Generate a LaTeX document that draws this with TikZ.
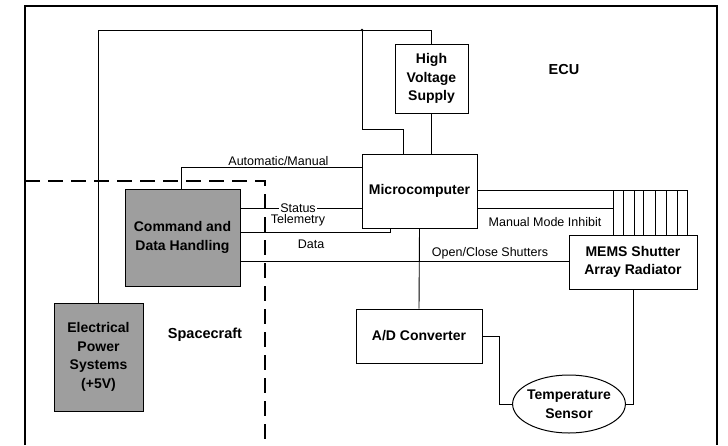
\documentclass[tikz,border=0pt]{standalone}
\usepackage{fontspec}
\setmainfont{Liberation Sans}
\usetikzlibrary{positioning,shapes.geometric}

\tikzset{
  blk/.style={draw,line width=1pt,align=center,inner sep=0pt,font=\bfseries\fontsize{14}{18.5}\selectfont},
  shaded/.style={blk,fill=black!38},
  sig/.style={inner sep=1pt,font=\fontsize{12.5}{14}\selectfont},
  wire/.style={line width=0.9pt},
}

\begin{document}
\begin{tikzpicture}[x=1pt,y=-1pt]
\useasboundingbox (0,0) rectangle (728,445);
% ECU frame and spacecraft boundary
\draw[line width=1.3pt] (25,445)--(25,6)--(717,6)--(717,445);
\draw[line width=2.2pt,dash pattern=on 15pt off 8pt] (25,181)--(265,181)--(265,445);
\node[font=\bfseries\fontsize{14.5}{16}\selectfont] (ecu) at (564,70) {ECU};
\node[font=\bfseries\fontsize{14.5}{16}\selectfont] (sc) at (205,335) {Spacecraft};

\node[blk,minimum width=73,minimum height=69] (hvs) at (431.5,78.5) {High\\Voltage\\Supply};
\node[blk,minimum width=115,minimum height=74] (mc) at (419.5,191) {Microcomputer};
\node[shaded,minimum width=115,minimum height=97] (cdh) at (182.5,237.5) {Command and\\Data Handling};
\node[shaded,minimum width=89,minimum height=108] (eps) at (98.5,357) {Electrical\\Power\\Systems\\(+5V)};
\node[blk,minimum width=128,minimum height=54] (mems) at (633,262) {MEMS Shutter\\Array Radiator};
\node[blk,minimum width=126,minimum height=54] (adc) at (419,336) {A/D Converter};
\node[blk,ellipse,minimum width=104,minimum height=58,inner sep=-2pt] (temp) at (569,404) {Temperature\\Sensor};

% power
\coordinate (ptop) at (431.5,30);
\coordinate (pj) at (362,30);
\coordinate (pmc) at (403,129);
\draw[wire] (eps.north) |- (ptop) -- (hvs.north);
\draw[wire] (pj) |- (pmc) -- (pmc |- mc.north);
\fill (pj) circle (1.3);
\draw[wire] (hvs.south) -- (hvs.south |- mc.north);

% spacecraft links
\coordinate (amt) at (181,167);
\draw[wire] (cdh.north -| amt) -- (amt) -- node[sig,above,pos=0.54] {Automatic/Manual} (amt -| mc.west);
\coordinate (stat) at (298,208);
\draw[wire] (cdh.east |- stat) -- (stat -| mc.west);
\node[sig,fill=white] (lstat) at (stat) {Status};
\coordinate (tel) at (390,232);
\draw[wire] (cdh.east |- tel) -- (tel) -- (tel |- mc.south);
\node[sig] (ltel) at (298,220) {Telemetry};
\coordinate (dat) at (300,261);
\draw[wire] (cdh.east |- dat) -- (dat -| mems.west);
\node[sig] (ldat) at (311,244) {Data};
\node[sig] (lsh) at (490,253) {Open/Close Shutters};

% shutter bus
\coordinate (bus) at (687,190);
\coordinate (inh) at (613,208);
\draw[wire] (bus -| mc.east) -- (bus);
\draw[wire] (inh -| mc.east) -- (inh);
\foreach \x in {613,623,634,643,655,666,677,687}
  \draw[wire] (\x,190) -- (\x,235);
\node[sig] (linh) at (545,222) {Manual Mode Inhibit};

% sensing
\coordinate (at) at (499,404);
\draw[wire] (mc.south) -- (adc.north);
\draw[wire] (adc.east) -| (at) -- (temp.west);
\draw[wire] (mems.south) |- (temp.east);
\end{tikzpicture}
\end{document}
